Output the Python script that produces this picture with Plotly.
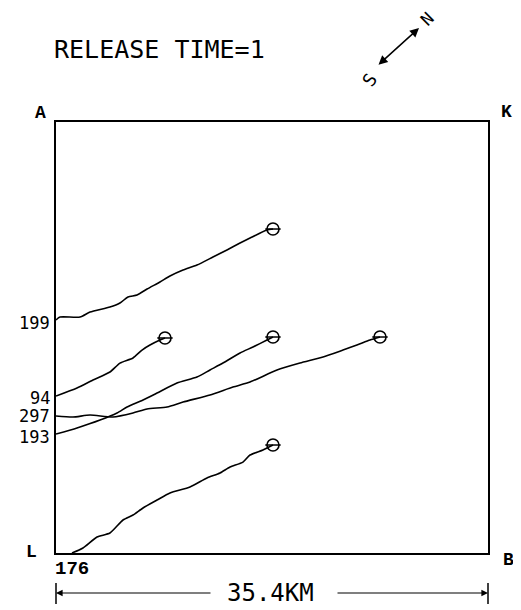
import plotly.graph_objects as go

# Trajectories in km (x along A-K/L-B, y up from L-B)
labels = ["199", "94", "297", "193", "176"]

x199 = [0.0, 0.33, 1.97, 2.79, 4.42, 5.24, 5.90, 6.64, 7.46, 8.52, 9.34, 10.41, 11.55, 12.86, 14.01, 15.08, 15.90, 17.29, 17.78]
y199 = [19.14, 19.38, 19.38, 19.79, 20.20, 20.53, 21.03, 21.19, 21.68, 22.26, 22.75, 23.24, 23.65, 24.31, 24.89, 25.46, 25.87, 26.53, 26.61]

x94 = [0.0, 1.72, 3.03, 4.42, 5.24, 6.31, 7.05, 7.70, 8.52, 8.93]
y94 = [12.89, 13.55, 14.21, 14.87, 15.60, 16.02, 16.67, 17.08, 17.49, 17.66]

x297 = [0.0, 1.39, 2.79, 4.67, 6.31, 7.46, 9.10, 10.41, 12.62, 14.50, 15.90, 18.11, 19.99, 21.88, 23.52, 24.66, 25.73, 26.55]
y297 = [11.25, 11.17, 11.33, 11.17, 11.50, 11.83, 11.99, 12.40, 12.98, 13.63, 14.04, 15.03, 15.60, 16.10, 16.67, 17.08, 17.49, 17.74]

x193 = [0.0, 1.72, 3.61, 5.00, 5.82, 7.13, 8.28, 9.91, 11.55, 12.62, 13.68, 15.08, 16.14, 17.29, 17.78]
y193 = [9.77, 10.27, 10.92, 11.50, 11.99, 12.57, 13.14, 13.96, 14.45, 15.03, 15.60, 16.43, 16.92, 17.49, 17.74]

x176 = [1.31, 2.21, 3.36, 4.42, 5.49, 6.31, 7.13, 8.28, 9.34, 10.98, 12.37, 13.44, 14.26, 15.32, 15.90, 16.96, 17.78]
y176 = [0.0, 0.41, 1.31, 1.64, 2.71, 3.12, 3.70, 4.35, 4.93, 5.42, 6.16, 6.57, 7.06, 7.47, 8.05, 8.46, 8.87]

xs = [x199, x94, x297, x193, x176]
ys = [y199, y94, y297, y193, y176]

domain_km = 35.4
title_text = "RELEASE TIME=1"
scale_text = "35.4KM"

# page body has an 8px margin; figure sized to fit the 521x610 window
FW, FH = 513, 602
ML, MT = 48, 114
PW, PH = 432, 431
MR = FW - ML - PW
MB = FH - MT - PH


def px(xp):  # window pixel x -> paper
    return (xp - 8 - ML) / PW


def py(yp):  # window pixel y -> paper
    return (MT + PH + 8 - yp) / PH


fig = go.Figure()
for xv, yv in zip(xs, ys):
    fig.add_trace(go.Scatter(x=xv, y=yv, mode="lines",
                             line=dict(color="black", width=1.6, shape="spline", smoothing=0.6),
                             hoverinfo="skip", showlegend=False))
    fig.add_trace(go.Scatter(x=[xv[-1]], y=[yv[-1]], mode="markers",
                             marker=dict(symbol="circle-open", size=12, color="black", line=dict(width=1.6)),
                             showlegend=False, hoverinfo="skip"))
    fig.add_trace(go.Scatter(x=[xv[-1]], y=[yv[-1]], mode="markers",
                             marker=dict(symbol="line-ew", size=11, color="black", line=dict(width=1.5, color="black")),
                             showlegend=False, hoverinfo="skip"))

mono = "DejaVu Sans Mono"
serif = "Liberation Mono"
ann = []
label_shift = [-3, -2, 0, -3]
for lab, xv, yv, sh in zip(labels[:4], xs[:4], ys[:4], label_shift):
    ann.append(dict(x=xv[0], y=yv[0], xref="x", yref="y", text=lab, showarrow=False,
                    xanchor="right", yanchor="middle", xshift=-4, yshift=sh,
                    font=dict(family=mono, size=17, color="black")))
ann.append(dict(x=x176[0], y=y176[0], xref="x", yref="y", text=labels[4], showarrow=False,
                xanchor="center", yanchor="top", yshift=-3,
                font=dict(family=serif, size=19, color="black", weight="bold")))

for t, (xx, yy) in {"A": (40, 113), "K": (506, 112), "L": (31, 552), "B": (508, 560)}.items():
    ann.append(dict(x=px(xx), y=py(yy), xref="paper", yref="paper", text=t, showarrow=False,
                    xanchor="center", yanchor="middle",
                    font=dict(family=serif, size=18, color="black", weight="bold")))

ann.append(dict(x=px(52), y=py(50), xref="paper", yref="paper", text=title_text, showarrow=False,
                xanchor="left", yanchor="middle", font=dict(family=mono, size=25, color="black")))

# compass
ann.append(dict(x=px(419), y=py(28), xref="paper", yref="paper", text="",
                showarrow=True, ax=-42, ay=38, arrowside="end+start", arrowhead=2, arrowsize=1.2,
                arrowwidth=1.5, arrowcolor="black"))
ann.append(dict(x=px(427), y=py(19), xref="paper", yref="paper", text="N", showarrow=False,
                xanchor="center", yanchor="middle",
                textangle=-45, font=dict(family=mono, size=17, color="black")))
ann.append(dict(x=px(369), y=py(80), xref="paper", yref="paper", text="S", showarrow=False,
                xanchor="center", yanchor="middle",
                textangle=-55, font=dict(family=mono, size=18, color="black")))

# scale bar
ys_bar = py(593)
ann.append(dict(x=0.0, y=ys_bar, xref="paper", yref="paper", text="", showarrow=True,
                ax=156, ay=0, arrowhead=2, arrowsize=1.1, arrowwidth=1.2, arrowcolor="black"))
ann.append(dict(x=1.0, y=ys_bar, xref="paper", yref="paper", text="", showarrow=True,
                ax=-152, ay=0, arrowhead=2, arrowsize=1.1, arrowwidth=1.2, arrowcolor="black"))
ann.append(dict(x=px(270), y=ys_bar, xref="paper", yref="paper", text=scale_text, showarrow=False,
                xanchor="center", yanchor="middle", font=dict(family=mono, size=24, color="black")))

shapes = []
for xp in (0.0, 1.0):
    shapes.append(dict(type="line", xref="paper", yref="paper", x0=xp, x1=xp,
                       y0=py(583), y1=py(604), line=dict(color="black", width=1.5)))

fig.update_layout(
    width=FW, height=FH,
    margin=dict(l=ML, r=MR, t=MT, b=MB, autoexpand=False),
    paper_bgcolor="white", plot_bgcolor="white",
    xaxis=dict(range=[0, domain_km], showgrid=False, zeroline=False, showticklabels=False, ticks="",
               showline=True, mirror=True, linecolor="black", linewidth=2, fixedrange=True),
    yaxis=dict(range=[0, domain_km], showgrid=False, zeroline=False, showticklabels=False, ticks="",
               showline=True, mirror=True, linecolor="black", linewidth=2, fixedrange=True),
    annotations=ann, shapes=shapes, showlegend=False,
)
fig.write_html("out.html", config={"displayModeBar": False})
